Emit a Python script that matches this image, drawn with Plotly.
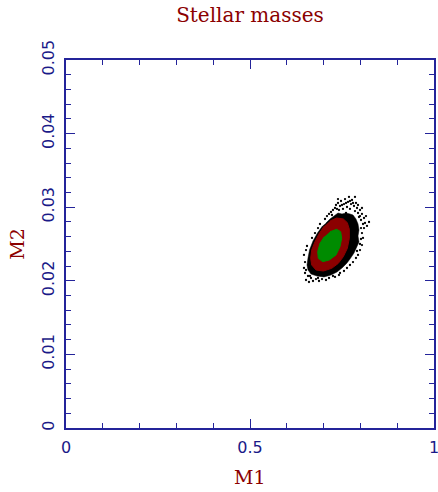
import plotly.graph_objects as go

# Posterior samples of the two stellar masses (M1, M2)
# Outer envelope of the dense sample cloud
cloud_m1 = [0.7065, 0.7174, 0.7283, 0.7391, 0.7500, 0.7609, 0.7717, 0.7799, 0.7880, 0.7935,
            0.7962, 0.7935, 0.7962, 0.7880, 0.7826, 0.7717, 0.7636, 0.7500, 0.7364, 0.7201,
            0.7011, 0.6821, 0.6658, 0.6576, 0.6549, 0.6576, 0.6617, 0.6712, 0.6834, 0.6970]
cloud_m2 = [0.02785, 0.02840, 0.02880, 0.02921, 0.02908, 0.02921, 0.02908, 0.02894, 0.02840, 0.02772,
            0.02690, 0.02609, 0.02527, 0.02446, 0.02378, 0.02296, 0.02242, 0.02174, 0.02120, 0.02079,
            0.02052, 0.02065, 0.02092, 0.02147, 0.02215, 0.02310, 0.02418, 0.02541, 0.02649, 0.02745]

# Outer confidence contour (dark red)
outer_m1 = [0.7174, 0.7355, 0.7536, 0.7645, 0.7699, 0.7699, 0.7645, 0.7536, 0.7400,
            0.7219, 0.6993, 0.6793, 0.6676, 0.6649, 0.6676, 0.6766, 0.6884, 0.7020]
outer_m2 = [0.02812, 0.02853, 0.02840, 0.02790, 0.02700, 0.02577, 0.02441, 0.02328, 0.02237,
            0.02169, 0.02133, 0.02147, 0.02215, 0.02305, 0.02418, 0.02532, 0.02645, 0.02745]

# Inner confidence contour (green)
inner_m1 = [0.7174, 0.7355, 0.7464, 0.7491, 0.7446, 0.7337, 0.7156, 0.6975, 0.6857,
            0.6839, 0.6902, 0.7020]
inner_m2 = [0.02667, 0.02700, 0.02667, 0.02577, 0.02464, 0.02351, 0.02283, 0.02260, 0.02305,
            0.02396, 0.02509, 0.02600]

# Individual samples lying outside the dense cloud
stray_m1 = [0.7038, 0.7092, 0.7147, 0.7201, 0.7255, 0.7310, 0.7337, 0.7391, 0.7446, 0.7473,
            0.7527, 0.7554, 0.7582, 0.7636, 0.7663, 0.7690, 0.7717, 0.7745, 0.7772, 0.7826,
            0.7853, 0.7880, 0.7908, 0.7935, 0.7962, 0.7989, 0.8016, 0.8043, 0.8071, 0.8098,
            0.8016, 0.8043, 0.8125, 0.8179, 0.8016, 0.8043, 0.7989, 0.7935, 0.7880, 0.7799,
            0.7717, 0.7636, 0.7554, 0.7418, 0.7310, 0.7147, 0.6957, 0.6793, 0.6658, 0.6576,
            0.6495, 0.6522, 0.6603, 0.6712, 0.6875, 0.7065, 0.6467, 0.6495, 0.6467, 0.6522,
            0.6549, 0.6902, 0.6848, 0.6766, 0.6685, 0.7228, 0.7418, 0.7609, 0.7772,
            0.7364, 0.7500, 0.7609, 0.7717, 0.7799, 0.7935, 0.8043, 0.7989, 0.8098, 0.8071,
            0.7989, 0.7908, 0.7446, 0.7255, 0.6848, 0.6630, 0.6522, 0.7391, 0.7853, 0.8152,
            0.8234]
stray_m2 = [0.02840, 0.02880, 0.02908, 0.02935, 0.02962, 0.02989, 0.03030, 0.03057, 0.03016, 0.03084,
            0.02976, 0.03043, 0.03111, 0.03003, 0.03071, 0.03139, 0.02976, 0.03043, 0.03098, 0.03016,
            0.02948, 0.03057, 0.02989, 0.02921, 0.02867, 0.02962, 0.02826, 0.02908, 0.02772, 0.02853,
            0.02717, 0.02649, 0.02785, 0.02745, 0.02568, 0.02486, 0.02418, 0.02351, 0.02310, 0.02255,
            0.02215, 0.02174, 0.02133, 0.02079, 0.02052, 0.02038, 0.02024, 0.02024, 0.02038, 0.02065,
            0.02106, 0.02011, 0.01984, 0.01997, 0.01997, 0.02011, 0.02174, 0.02255, 0.02351, 0.02418,
            0.02473, 0.02772, 0.02717, 0.02649, 0.02582, 0.02894, 0.02962, 0.02921, 0.02880,
            0.02976, 0.03030, 0.03057, 0.03084, 0.03057, 0.03030, 0.02989, 0.02880, 0.02717, 0.02582,
            0.02500, 0.02405, 0.02106, 0.02065, 0.02038, 0.02065, 0.02147, 0.03111, 0.03139, 0.02880,
            0.02799]

x_ticks = [0, 0.5, 1]
x_labels = ["0", "0.5", "1"]
y_ticks = [0, 0.01, 0.02, 0.03, 0.04, 0.05]
y_labels = ["0", "0.01", "0.02", "0.03", "0.04", "0.05"]

AXIS = "#24249a"
LABEL = "#1a1a88"
TITLE = "#8b0000"
SERIF = "DejaVu Serif"

fig = go.Figure()
fig.add_trace(go.Scatter(x=cloud_m1, y=cloud_m2, fill="toself", fillcolor="black",
                         mode="lines", line=dict(color="black", width=0.5), hoverinfo="skip"))
fig.add_trace(go.Scatter(x=stray_m1, y=stray_m2, mode="markers",
                         marker=dict(color="black", size=2.3, line=dict(width=0))))
fig.add_trace(go.Scatter(x=outer_m1, y=outer_m2, fill="toself", fillcolor="#8b0000",
                         mode="lines", line=dict(color="#8b0000", width=1)))
fig.add_trace(go.Scatter(x=inner_m1, y=inner_m2, fill="toself", fillcolor="#008b00",
                         mode="lines", line=dict(color="#008b00", width=1)))

axis_common = dict(
    showgrid=False, zeroline=False, showline=True, linecolor=AXIS, linewidth=1.5,
    mirror="ticks", ticks="inside", ticklen=9, tickwidth=1.2, tickcolor=AXIS,
    tickfont=dict(family="DejaVu Sans", size=16, color=LABEL),
    automargin=False, ticklabeloverflow="allow",
)

fig.update_xaxes(
    range=[0, 1], tickmode="array", tickvals=x_ticks, ticktext=x_labels,
    minor=dict(tickmode="linear", tick0=0, dtick=0.1, ticks="inside", ticklen=5,
               tickwidth=1.2, tickcolor=AXIS, showgrid=False),
    ticklabelstandoff=4,
    **axis_common,
)
fig.update_yaxes(
    range=[0, 0.05], tickmode="array", tickvals=y_ticks, ticktext=y_labels, tickangle=-90,
    minor=dict(tickmode="linear", tick0=0, dtick=0.002, ticks="inside", ticklen=5,
               tickwidth=1.2, tickcolor=AXIS, showgrid=False),
    ticklabelstandoff=4,
    title=dict(text="M2", font=dict(family=SERIF, size=19, color=TITLE), standoff=9),
    **axis_common,
)

# x-axis title sits low, just above the bottom edge of the page
fig.add_annotation(text="M1", xref="paper", yref="paper", x=0.5, y=-62 / 368,
                   xanchor="center", yanchor="bottom", showarrow=False,
                   font=dict(family=SERIF, size=19, color=TITLE))

fig.update_layout(
    width=438, height=492,
    margin=dict(l=66, r=4, t=60, b=64, autoexpand=False),
    paper_bgcolor="white", plot_bgcolor="white",
    showlegend=False,
    title=dict(text="Stellar masses", x=250 / 438, xanchor="center", y=1 - 15 / 492,
               yanchor="middle", font=dict(family=SERIF, size=20, color=TITLE)),
)

fig.write_html("out.html")
